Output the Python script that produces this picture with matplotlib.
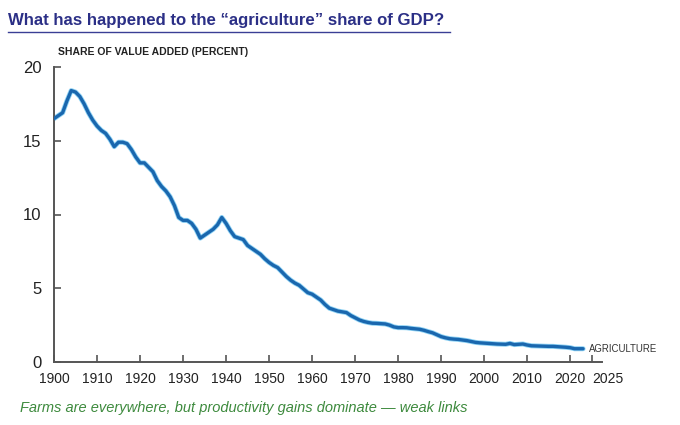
import matplotlib
matplotlib.use("Agg")
import matplotlib.pyplot as plt
import matplotlib.transforms as mtransforms

years = list(range(1900, 2024))
agri_share = [
    16.5, 16.7, 16.9, 17.7, 18.4, 18.3, 18.0, 17.5, 16.9, 16.4,
    16.0, 15.7, 15.5, 15.1, 14.6, 14.9, 14.9, 14.8, 14.4, 13.9,
    13.5, 13.5, 13.2, 12.9, 12.3, 11.9, 11.6, 11.2, 10.6, 9.8,
    9.6, 9.6, 9.4, 9.0, 8.4, 8.6, 8.8, 9.0, 9.3, 9.8,
    9.4, 8.9, 8.5, 8.4, 8.3, 7.9, 7.7, 7.5, 7.3, 7.0,
    6.75, 6.55, 6.4, 6.1, 5.8, 5.55, 5.35, 5.2, 4.95, 4.7,
    4.6, 4.4, 4.2, 3.9, 3.65, 3.55, 3.45, 3.4, 3.35, 3.15,
    3.0, 2.85, 2.75, 2.68, 2.63, 2.62, 2.6, 2.58, 2.5, 2.38,
    2.33, 2.33, 2.32, 2.28, 2.25, 2.22, 2.15, 2.06, 1.98, 1.85,
    1.72, 1.64, 1.58, 1.55, 1.53, 1.49, 1.45, 1.39, 1.33, 1.30,
    1.28, 1.26, 1.24, 1.22, 1.21, 1.20, 1.26, 1.18, 1.20, 1.22,
    1.15, 1.10, 1.09, 1.08, 1.07, 1.06, 1.06, 1.04, 1.02, 1.00,
    0.97, 0.90, 0.90, 0.90,
]
x_ticks = [1900, 1910, 1920, 1930, 1940, 1950, 1960, 1970, 1980, 1990, 2000, 2010, 2020, 2025]
y_ticks = [0, 5, 10, 15, 20]

title = "What has happened to the \u201cagriculture\u201d share of GDP?"
ylabel = "SHARE OF VALUE ADDED (PERCENT)"
series_label = "AGRICULTURE"
caption = "Farms are everywhere, but productivity gains dominate \u2014 weak links"

plt.rcParams['font.family'] = ['Liberation Sans', 'DejaVu Sans']

fig = plt.figure(figsize=(6.8, 4.25), dpi=100)
ax = fig.add_axes([54/680, 1 - 362/425, (602-54)/680, (362-67)/425])

ax.plot(years, agri_share, color="#8fd3f5", lw=3.6, solid_capstyle="round", zorder=2)
ax.plot(years, agri_share, color="#1a67ae", lw=2.4, solid_capstyle="round", zorder=3)

ax.set_xlim(1900, 2027.4)
ax.set_ylim(0, 20)
ax.set_xticks(x_ticks)
ax.set_yticks(y_ticks)
ax.set_xticklabels([str(t) for t in x_ticks], fontsize=10, color="#222222")
ax.set_yticklabels([str(t) for t in y_ticks], fontsize=12, color="#222222")
ax.tick_params(axis="both", direction="in", length=5, width=1.2, color="#555555")
ax.tick_params(axis="x", pad=7)
ax.tick_params(axis="y", pad=9)
for s in ["top", "right"]:
    ax.spines[s].set_visible(False)
for s in ["left", "bottom"]:
    ax.spines[s].set_color("#555555")
    ax.spines[s].set_linewidth(1.4)

# nudge the last tick label right so it does not collide with 2020
last_lbl = ax.get_xticklabels()[-1]
last_lbl.set_transform(last_lbl.get_transform() +
                       mtransforms.ScaledTranslation(16/100, 0, fig.dpi_scale_trans))

ax.annotate(series_label, xy=(years[-1], agri_share[-1]), xytext=(4.5, 0),
            textcoords="offset points", fontsize=6.9, color="#333333",
            va="center", ha="left", annotation_clip=False)

fig.text(8/680, 1 - 20/425, title, fontsize=12.1, fontweight="bold",
         color="#2b2f86", va="center", ha="left")
fig.add_artist(plt.Line2D([8/680, 450/680], [1 - 31.5/425, 1 - 31.5/425],
                          color="#3a3f95", lw=1.0, transform=fig.transFigure))
fig.text(58/680, 1 - 52/425, ylabel, fontsize=7.5, fontweight="bold",
         color="#222222", va="center", ha="left")
fig.text(20/680, 1 - 408/425, caption, fontsize=10.5, style="italic",
         color="#3d8a3d", va="center", ha="left")

fig.savefig("out.png", dpi=100)
